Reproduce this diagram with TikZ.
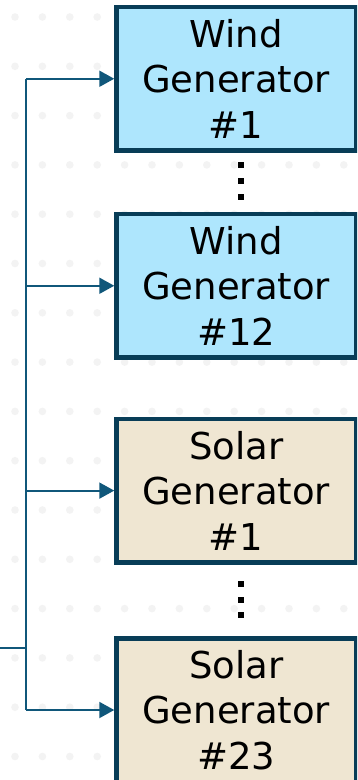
\documentclass[tikz,border=0pt]{standalone}
\usepackage{fontspec}
\setmainfont{DejaVu Sans}
\usetikzlibrary{arrows.meta}

\definecolor{linkblue}{HTML}{10577A}
\definecolor{edgenavy}{HTML}{083D57}
\definecolor{windfill}{HTML}{AEE6FD}
\definecolor{solarfill}{HTML}{EFE6D2}
\definecolor{griddot}{HTML}{F3F3F3}

\tikzset{
  genbox/.style={draw=edgenavy, line width=4.5pt, rectangle,
    minimum width=239.5pt, minimum height=143.5pt, inner sep=0pt,
    align=center, text=black,
    font=\fontsize{37}{45.5}\selectfont},
  windbox/.style={genbox, fill=windfill},
  solarbox/.style={genbox, fill=solarfill},
  feed/.style={draw=linkblue, line width=2pt,
    -{Triangle[length=15pt,width=16pt]}},
  bus/.style={draw=linkblue, line width=2pt},
  vdots/.style={fill=black}
}

\begin{document}
\begin{tikzpicture}[x=1pt, y=-1pt]
  \clip (0,0) rectangle (357,780);
  \fill[white] (0,0) rectangle (357,780);

  % faint background dot grid
  \foreach \r in {0,...,15} {
    \foreach \c in {0,...,12} {
      \fill[griddot] (15+27.4*\c, 17+49.3*\r) circle (3.8pt);
    }
  }

  % generator blocks
  \node[windbox]  (w1)  at (236.25,78.75)  {Wind\\Generator\\\#1};
  \node[windbox]  (w12) at (236.25,285.75) {Wind\\Generator\\\#12};
  \node[solarbox] (s1)  at (236.25,490.6)  {Solar\\Generator\\\#1};
  \node[solarbox] (s23) at (236.25,710)    {Solar\\Generator\\\#23};

  % vertical ellipses between blocks
  \foreach \y in {165,181,197,584,600,615} {
    \fill[vdots] (237.5,\y-3) rectangle (243.5,\y+3);
  }

  % feeder bus
  \coordinate (in)   at (0,648);
  \coordinate (junc) at (26,648);
  \coordinate (top)  at (26,78.75);
  \coordinate (bot)  at (26,710);
  \draw[bus] (in) -- (junc);
  \draw[bus] (top) -- (bot);
  \draw[feed] (top) -- (w1.west);
  \draw[feed] (26,285.75) -- (w12.west);
  \draw[feed] (26,490.6) -- (s1.west);
  \draw[feed] (bot) -- (s23.west);
\end{tikzpicture}
\end{document}
